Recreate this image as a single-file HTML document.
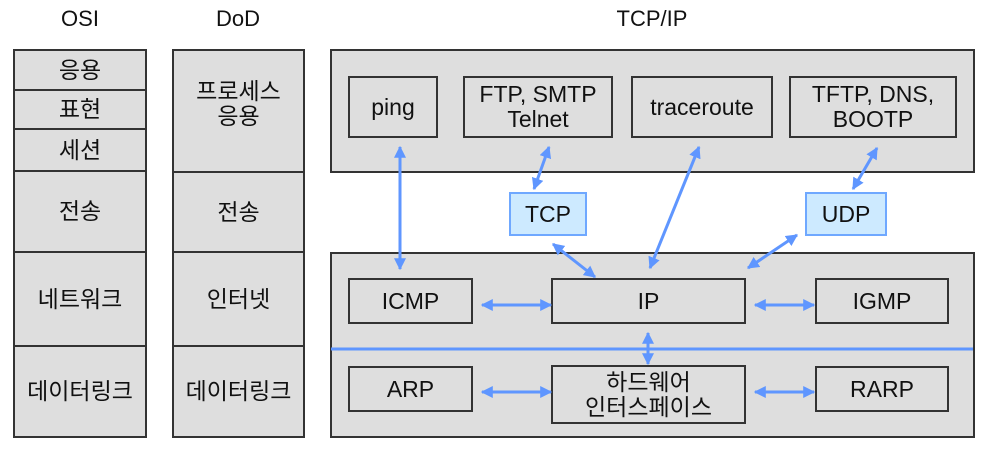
<!DOCTYPE html>
<html><head><meta charset="utf-8"><style>
body{margin:0;width:998px;height:452px;background:#fff;overflow:hidden;font-family:"Liberation Sans","Noto Sans CJK KR",sans-serif;}
.b{position:absolute;box-sizing:border-box;background:#dedede;border:2px solid #333;display:flex;align-items:center;justify-content:center;text-align:center;font-size:23px;line-height:25px;color:#111;}
.h{position:absolute;font-size:22px;top:6px;transform:translateX(-50%);color:#111}
.c{background:#cdeaff;border:2px solid #6fa8ff;}
svg{position:absolute;left:0;top:0}
</style></head><body>
<div class="h" style="left:80px">OSI</div>
<div class="h" style="left:238px">DoD</div>
<div class="h" style="left:652px">TCP/IP</div>

<div class="b" style="left:13px;top:49px;width:134px;height:42px">응용</div>
<div class="b" style="left:13px;top:89px;width:134px;height:41px">표현</div>
<div class="b" style="left:13px;top:128px;width:134px;height:44px">세션</div>
<div class="b" style="left:13px;top:170px;width:134px;height:83px">전송</div>
<div class="b" style="left:13px;top:251px;width:134px;height:96px">네트워크</div>
<div class="b" style="left:13px;top:345px;width:134px;height:93px">데이터링크</div>

<div class="b" style="left:172px;top:49px;width:133px;height:124px;align-items:flex-start;padding-top:28px">프로세스<br>응용</div>
<div class="b" style="left:172px;top:171px;width:133px;height:82px">전송</div>
<div class="b" style="left:172px;top:251px;width:133px;height:96px">인터넷</div>
<div class="b" style="left:172px;top:345px;width:133px;height:93px">데이터링크</div>

<div class="b" style="left:330px;top:49px;width:645px;height:124px"></div>
<div class="b" style="left:348px;top:76px;width:90px;height:62px">ping</div>
<div class="b" style="left:463px;top:76px;width:150px;height:62px">FTP, SMTP<br>Telnet</div>
<div class="b" style="left:631px;top:76px;width:142px;height:62px">traceroute</div>
<div class="b" style="left:789px;top:76px;width:168px;height:62px">TFTP, DNS,<br>BOOTP</div>

<div class="b c" style="left:509px;top:192px;width:78px;height:44px">TCP</div>
<div class="b c" style="left:805px;top:192px;width:82px;height:44px">UDP</div>

<div class="b" style="left:330px;top:252px;width:645px;height:186px"></div>
<div class="b" style="left:348px;top:278px;width:125px;height:46px">ICMP</div>
<div class="b" style="left:551px;top:278px;width:195px;height:46px">IP</div>
<div class="b" style="left:815px;top:278px;width:134px;height:46px">IGMP</div>
<div class="b" style="left:348px;top:366px;width:125px;height:46px">ARP</div>
<div class="b" style="left:551px;top:365px;width:195px;height:59px">하드웨어<br>인터스페이스</div>
<div class="b" style="left:815px;top:366px;width:134px;height:46px">RARP</div>

<svg width="998" height="452">
<defs><marker id="a" viewBox="0 0 10 10" refX="9" refY="5" markerWidth="4" markerHeight="4" orient="auto-start-reverse"><path d="M0,0 L10,5 L0,10 z" fill="#5f96ff"/></marker></defs>
<line x1="331" y1="349" x2="973" y2="349" stroke="#5f96ff" stroke-width="3"/>
<g stroke="#5f96ff" stroke-width="3" fill="none" marker-start="url(#a)" marker-end="url(#a)">
<line x1="400" y1="147" x2="400" y2="269"/>
<line x1="549" y1="147" x2="534" y2="189"/>
<line x1="699" y1="147" x2="650" y2="268"/>
<line x1="877" y1="148" x2="853" y2="189"/>
<line x1="553" y1="244" x2="595" y2="277"/>
<line x1="797" y1="235" x2="748" y2="268"/>
<line x1="482" y1="305" x2="551" y2="305"/>
<line x1="755" y1="305" x2="814" y2="305"/>
<line x1="648" y1="333" x2="648" y2="364"/>
<line x1="482" y1="392" x2="551" y2="392"/>
<line x1="755" y1="392" x2="814" y2="392"/>
</g>
</svg>
</body></html>
